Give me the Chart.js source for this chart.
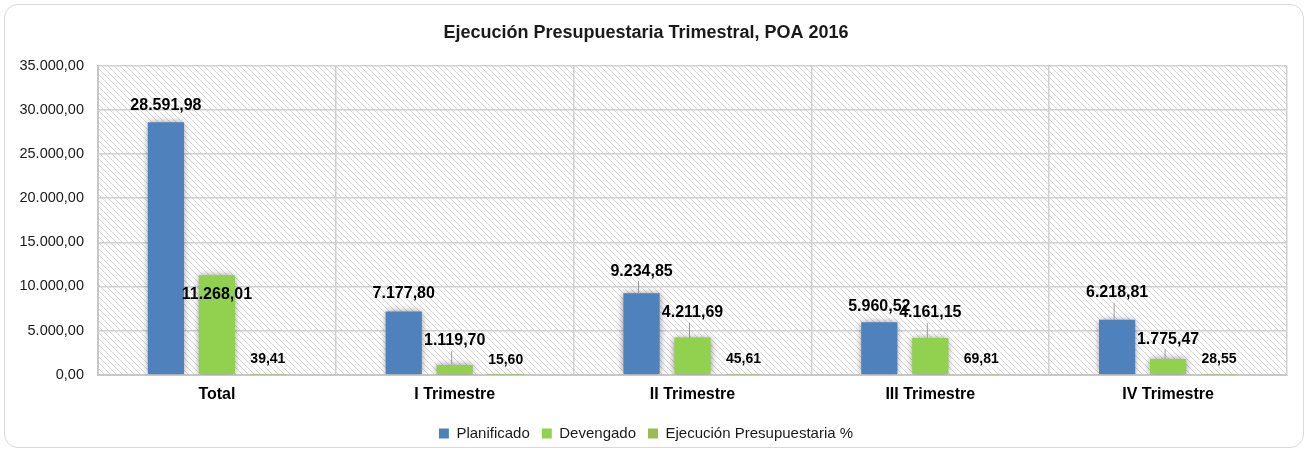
<!DOCTYPE html>
<html>
<head>
<meta charset="utf-8">
<script src="https://cdn.jsdelivr.net/npm/chart.js@4.4.1/dist/chart.umd.min.js"></script>
<style>
  body { margin: 0; background: #fff; }
  #card {
    position: absolute; left: 4px; top: 4px;
    width: 1298px; height: 442px;
    border: 1px solid #d9d9d9; border-radius: 14px;
    overflow: hidden;
  }
  #myChart { display: block; }
</style>
</head>
<body>
<div id="card"><canvas id="myChart" width="1298" height="442"></canvas></div>
<script>
var categories = ['Total', 'I Trimestre', 'II Trimestre', 'III Trimestre', 'IV Trimestre'];
var planificado = [28591.98, 7177.80, 9234.85, 5960.52, 6218.81];
var devengado = [11268.01, 1119.70, 4211.69, 4161.15, 1775.47];
var ejecucion = [39.41, 15.60, 45.61, 69.81, 28.55];
var yTicks = [0, 5000, 10000, 15000, 20000, 25000, 30000, 35000];

function fmt(v) {
  var parts = v.toFixed(2).split('.');
  parts[0] = parts[0].replace(/\B(?=(\d{3})+(?!\d))/g, '.');
  return parts[0] + ',' + parts[1];
}

// hatched plot background
function makePattern(ctx) {
  var c = document.createElement('canvas');
  c.width = 6; c.height = 6;
  var p = c.getContext('2d');
  p.fillStyle = '#ffffff';
  p.fillRect(0, 0, 6, 6);
  p.fillStyle = '#d6d6d6';
  for (var i = 0; i < 6; i++) p.fillRect(i, i, 1, 1);
  return ctx.createPattern(c, 'repeat');
}

var hatchPlugin = {
  id: 'hatch',
  beforeDraw: function(chart) {
    var a = chart.chartArea, ctx = chart.ctx;
    ctx.save();
    ctx.fillStyle = makePattern(ctx);
    ctx.fillRect(a.left, a.top, a.right - a.left, a.bottom - a.top);
    ctx.restore();
  },
  beforeDatasetsDraw: function(chart) {
    var ctx = chart.ctx;
    ctx.save();
    ctx.shadowColor = 'rgba(0,0,0,0.45)';
    ctx.shadowBlur = 7;
  },
  afterDatasetsDraw: function(chart) {
    chart.ctx.restore();
  }
};

// value labels on top of the bars
var labelOffsets = [[-17, -18, -22, -16, -27], [19, -24, -25, -25, -20], [-15, -15, -15, -15, -15]];
var labelPlugin = {
  id: 'valueLabels',
  afterDatasetsDraw: function(chart) {
    var ctx = chart.ctx;
    ctx.save();
    ctx.textAlign = 'center';
    ctx.textBaseline = 'middle';
    chart.data.datasets.forEach(function(ds, di) {
      var meta = chart.getDatasetMeta(di);
      meta.data.forEach(function(bar, i) {
        var off = labelOffsets[di][i];
        var y = bar.y + off;
        if (di < 2 && off < -19) {
          ctx.strokeStyle = '#9a9a9a';
          ctx.lineWidth = 1;
          ctx.beginPath();
          ctx.moveTo(bar.x - 3, y + 10);
          ctx.lineTo(bar.x - 3, bar.y);
          ctx.stroke();
        }
        ctx.fillStyle = '#000';
        ctx.font = (di == 2 ? 'bold 14px' : 'bold 16px') + ' "Liberation Sans", Arial, sans-serif';
        ctx.fillText(fmt(ds.data[i]), bar.x, y);
      });
    });
    ctx.restore();
  }
};

var ctx = document.getElementById('myChart').getContext('2d');
var chart = new Chart(ctx, {
  type: 'bar',
  data: {
    labels: categories,
    datasets: [{
      label: 'Planificado',
      data: planificado,
      backgroundColor: '#4f81bd'
    }, {
      label: 'Devengado',
      data: devengado,
      backgroundColor: '#92d050'
    }, {
      label: 'Ejecución Presupuestaria %',
      data: ejecucion,
      backgroundColor: '#9bbb59'
    }]
  },
  options: {
    responsive: false,
    animation: false,
    categoryPercentage: 0.643,
    barPercentage: 0.71,
    layout: { padding: { left: 0, right: 16, top: 0, bottom: -4 } },
    plugins: {
      tooltip: { enabled: false },
      title: {
        display: true,
        text: 'Ejecución Presupuestaria Trimestral, POA 2016',
        color: '#1a1a1a',
        font: { family: '"Liberation Sans", Arial, sans-serif', size: 18, weight: 'bold' },
        padding: { top: 17, bottom: 22 }
      },
      legend: {
        position: 'bottom',
        labels: {
          boxWidth: 10,
          boxHeight: 10,
          padding: 12,
          color: '#1a1a1a',
          font: { family: '"Liberation Sans", Arial, sans-serif', size: 15 }
        }
      }
    },
    scales: {
      x: {
        grid: { offset: true, color: '#d0d0d0', lineWidth: 1.5, drawTicks: false },
        border: { color: '#c8c8c8', width: 2 },
        ticks: {
          padding: 10,
          color: '#000',
          font: { family: '"Liberation Sans", Arial, sans-serif', size: 16, weight: 'bold' }
        }
      },
      y: {
        min: 0,
        max: 35000,
        afterFit: function(s) { s.width = 93; },
        afterBuildTicks: function(s) { s.ticks = yTicks.map(function(v) { return { value: v }; }); },
        grid: { color: '#d0d0d0', lineWidth: 1.5, drawTicks: false },
        border: { color: '#c8c8c8', width: 2 },
        ticks: {
          padding: 14,
          color: '#1a1a1a',
          font: { family: '"Liberation Sans", Arial, sans-serif', size: 14.5 },
          callback: function(v) { return fmt(v); }
        }
      }
    }
  },
  plugins: [hatchPlugin, labelPlugin]
});
</script>
</body>
</html>
